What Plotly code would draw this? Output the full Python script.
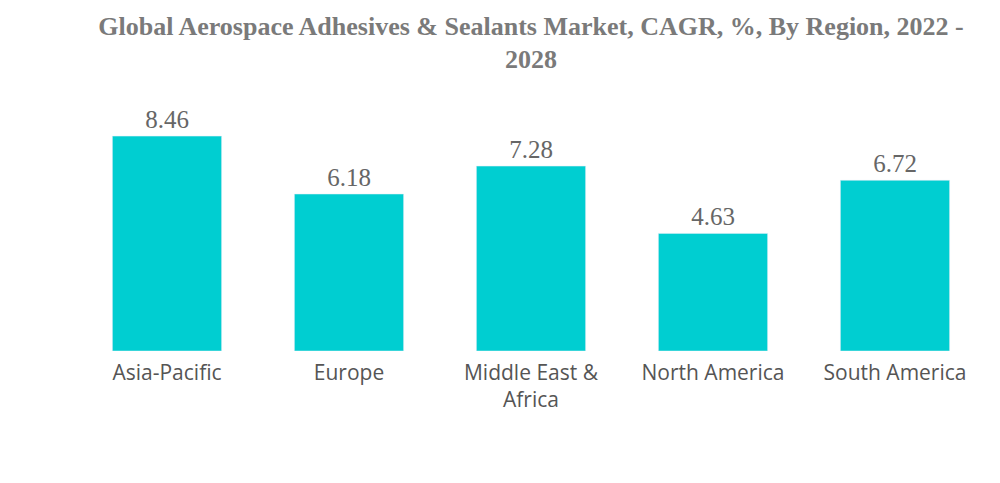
import plotly.graph_objects as go

regions = ["Asia-Pacific", "Europe", "Middle East &<br>Africa", "North America", "South America"]
cagr = [8.46, 6.18, 7.28, 4.63, 6.72]

fig = go.Figure(go.Bar(
    x=regions, y=cagr,
    marker_color="#00CED1",
    text=[f"{v:.2f}" for v in cagr],
    textposition="outside",
    textfont=dict(family="Liberation Serif", size=25, color="#666666"),
    cliponaxis=False,
))

# page body has an 8px margin, so margins are shifted by that much
fig.update_layout(
    width=1000, height=483,
    margin=dict(l=68, r=22, t=89, b=140),
    paper_bgcolor="white", plot_bgcolor="white",
    bargap=0.4,
    showlegend=False,
    title=dict(
        text="Global Aerospace Adhesives & Sealants Market, CAGR, %, By Region, 2022 -<br>2028",
        x=0.5, xref="paper", xanchor="center",
        y=0.945, yref="container", yanchor="top",
        font=dict(family="Liberation Serif", size=26, color="#7a7a7a", weight="bold"),
    ),
    xaxis=dict(
        showgrid=False, showline=False, ticks="", automargin=False,
        ticklabelstandoff=7,
        tickfont=dict(family="Open Sans", size=21, color="#555555"),
    ),
    yaxis=dict(visible=False, range=[0, 10]),
)

fig.write_html("out.html")
